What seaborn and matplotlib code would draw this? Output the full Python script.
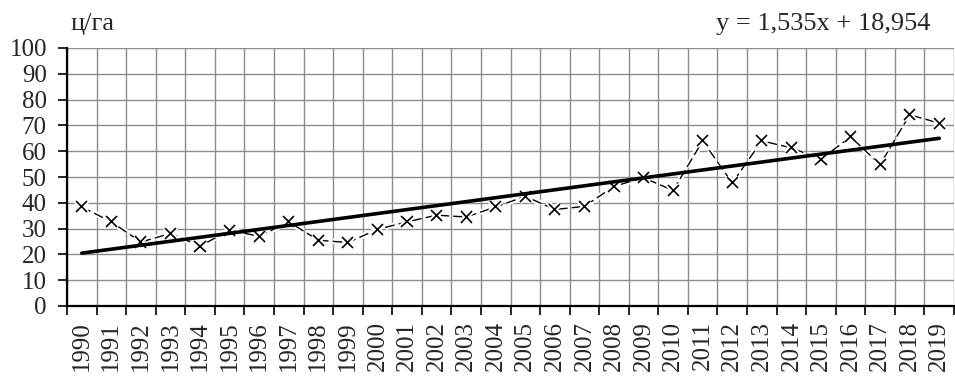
import matplotlib
matplotlib.use("Agg")
import matplotlib.pyplot as plt
import matplotlib.patheffects as pe
import numpy as np
import pandas as pd
import seaborn as sns

# Yield by year, centners per hectare
years = list(range(1990, 2020))
yields = [38.4, 32.6, 24.8, 28.1, 23.2, 29.4, 27.0, 32.6, 25.5, 24.6,
          29.7, 32.6, 35.2, 34.5, 38.4, 42.5, 37.4, 38.6, 46.4, 49.7,
          44.8, 64.0, 47.7, 64.0, 61.3, 56.9, 65.6, 54.8, 74.1, 70.9]

# Linear trend: y = a*x + b, x = 1..30
trend_slope = 1.535
trend_intercept = 18.954
y_ticks = list(range(0, 101, 10))

sns.set_style("white")
plt.rcParams["font.family"] = ["Liberation Serif", "DejaVu Serif"]

idx = np.arange(len(years))
df = pd.DataFrame({"pos": idx, "year": years, "yield": yields,
                   "trend": trend_slope * (idx + 1) + trend_intercept})

fig = plt.figure(figsize=(9.55, 3.76), dpi=100)
ax = fig.add_axes([67 / 955, 1 - 306 / 376, 887 / 955, 258 / 376])

# Grid: boundaries between years and every 10 units
ax.set_xlim(-0.5, len(years) - 0.5)
ax.set_ylim(0, 100)
ax.set_xticks(idx)
ax.set_xticklabels([str(y) for y in years], rotation=90, fontsize=18)
ax.set_xticks(np.arange(-0.5, len(years), 1.0), minor=True)
ax.set_yticks(y_ticks)
ax.set_yticklabels([str(v) for v in y_ticks], fontsize=18)
ax.tick_params(axis="x", which="major", length=0, pad=11)
ax.tick_params(axis="x", which="minor", length=6.5, width=1.2, color="black",
               direction="out", bottom=True)
ax.tick_params(axis="y", which="major", length=6.5, width=1.2, color="black",
               direction="out", left=True, pad=8)
ax.grid(False)
ax.grid(True, axis="x", which="minor", color="#8c8c8c", linewidth=1)
ax.grid(True, axis="y", which="major", color="#8c8c8c", linewidth=1)
ax.set_axisbelow(True)

for side in ("top", "right"):
    ax.spines[side].set_visible(False)
for side in ("left", "bottom"):
    ax.spines[side].set_color("black")
    ax.spines[side].set_linewidth(1.6)

# Observed values: dashed line with cross markers
sns.lineplot(data=df, x="pos", y="yield", ax=ax, color="black", linewidth=1,
             marker="x", markersize=8, markeredgewidth=1.2,
             markeredgecolor="black", dashes=False, zorder=3)
obs = ax.lines[-1]
obs.set_dashes([7, 3])
obs.set_path_effects([pe.withStroke(linewidth=4, foreground="white")])

# Trend line
sns.lineplot(data=df, x="pos", y="trend", ax=ax, color="black",
             linewidth=2.6, zorder=4)

ax.set_xlabel("")
ax.set_ylabel("")

fig.text(70 / 955, 1 - 30 / 376, "ц/га", fontsize=19, ha="left", va="baseline")
fig.text(930 / 955, 1 - 30 / 376, "y = 1,535x + 18,954", fontsize=19,
         ha="right", va="baseline")

fig.savefig("out.png", dpi=100)
